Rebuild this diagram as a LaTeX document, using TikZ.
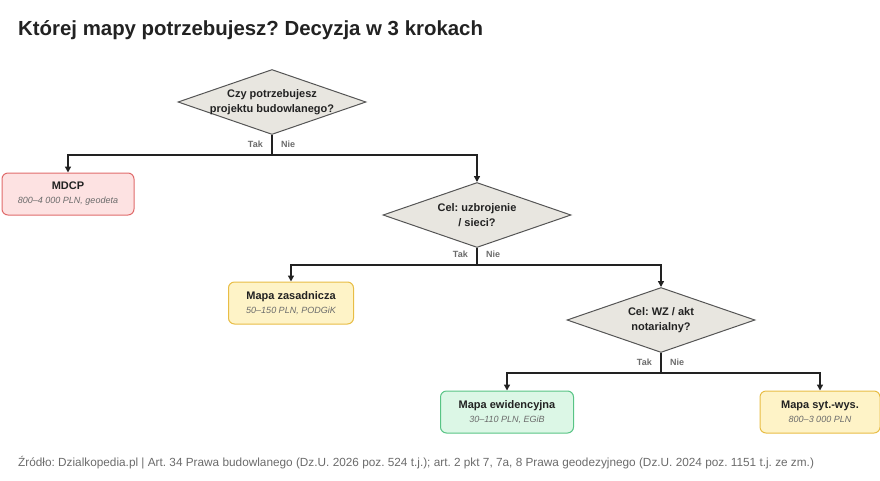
\documentclass[tikz,border=0pt]{standalone}
\usepackage{fontspec}
\setmainfont{Liberation Sans}
\usetikzlibrary{positioning,shapes.geometric,arrows.meta}
\definecolor{ink}{HTML}{222222}
\definecolor{muted}{HTML}{6B6B6B}
\definecolor{qfill}{HTML}{E8E6E0}
\definecolor{qline}{HTML}{555555}
\definecolor{redfill}{HTML}{FDE2E2}
\definecolor{redline}{HTML}{E06B6B}
\definecolor{yelfill}{HTML}{FEF3C7}
\definecolor{yelline}{HTML}{E8BD45}
\definecolor{grnfill}{HTML}{DCF7E6}
\definecolor{grnline}{HTML}{58C485}
\frenchspacing

\begin{document}
\begin{tikzpicture}[x=1pt, y=-1pt,
    q/.style={diamond, aspect=2.9, draw=qline, fill=qfill, line width=1pt, align=center,
              font=\fontsize{11}{15.5}\selectfont\bfseries, text=ink,
              inner xsep=-6pt, inner ysep=-2pt,
              minimum width=188pt, minimum height=65pt},
    box/.style={rectangle, rounded corners=6pt, line width=1pt, align=center,
                minimum height=42pt, inner sep=2pt},
    red/.style={box, draw=redline, fill=redfill},
    yel/.style={box, draw=yelline, fill=yelfill},
    grn/.style={box, draw=grnline, fill=grnfill},
    arr/.style={-{Triangle[length=6pt, width=6pt]}, line width=1.4pt, draw=ink},
    ln/.style={line width=1.4pt, draw=ink},
    lbl/.style={font=\fontsize{9}{10}\selectfont\bfseries, text=muted, inner sep=1pt}]
    \newcommand{\boxtext}[2]{{\fontsize{11}{13}\selectfont\bfseries\color{ink}#1}\\[2pt]
      {\fontsize{9}{10}\selectfont\itshape\color{muted}#2}}
    \useasboundingbox (0,0) rectangle (880,480);
    % title and source
    \node[anchor=west, font=\fontsize{20.4}{24}\selectfont\bfseries, text=ink, inner sep=0pt]
      (title) at (18,30) {Której mapy potrzebujesz? Decyzja w 3 krokach};
    \node[anchor=west, font=\fontsize{11.8}{13}\selectfont, text=muted, inner sep=0pt]
      (src) at (18,463) {Źródło: Dzialkopedia.pl | Art. 34 Prawa budowlanego (Dz.U. 2026 poz. 524 t.j.); art. 2 pkt 7, 7a, 8 Prawa geodezyjnego (Dz.U. 2024 poz. 1151 t.j. ze zm.)};
    % questions
    \node[q] (q1) at (272,102) {Czy potrzebujesz\\projektu budowlanego?};
    \node[q] (q2) at (477,215) {Cel: uzbrojenie\\/ sieci?};
    \node[q] (q3) at (661,320) {Cel: WZ / akt\\notarialny?};
    % outcomes
    \node[red, minimum width=132pt] (mdcp) at (68,194) {\boxtext{MDCP}{800–4 000 PLN, geodeta}};
    \node[yel, minimum width=125pt] (zas) at (291,303) {\boxtext{Mapa zasadnicza}{50–150 PLN, PODGiK}};
    \node[grn, minimum width=133pt] (ewi) at (507,412) {\boxtext{Mapa ewidencyjna}{30–110 PLN, EGiB}};
    \node[yel, minimum width=120pt] (syt) at (820,412) {\boxtext{Mapa syt.-wys.}{800–3 000 PLN}};
    % branch points
    \coordinate (j1) at (272,155);
    \coordinate (j2) at (477,265);
    \coordinate (j3) at (661,373);
    \draw[ln] (q1.south) -- (j1);
    \draw[arr] (j1) -| (mdcp.north);
    \draw[arr] (j1) -| (q2.north);
    \draw[ln] (q2.south) -- (j2);
    \draw[arr] (j2) -| (zas.north);
    \draw[arr] (j2) -| (q3.north);
    \draw[ln] (q3.south) -- (j3);
    \draw[arr] (j3) -| (ewi.north);
    \draw[arr] (j3) -| (syt.north);
    \foreach \j in {j1,j2,j3} {
      \node[lbl, anchor=east] (tak-\j) at ([shift={(-8pt,11pt)}]\j) {Tak};
      \node[lbl, anchor=west] (nie-\j) at ([shift={(8pt,11pt)}]\j) {Nie};
    }
  \end{tikzpicture}
\end{document}
